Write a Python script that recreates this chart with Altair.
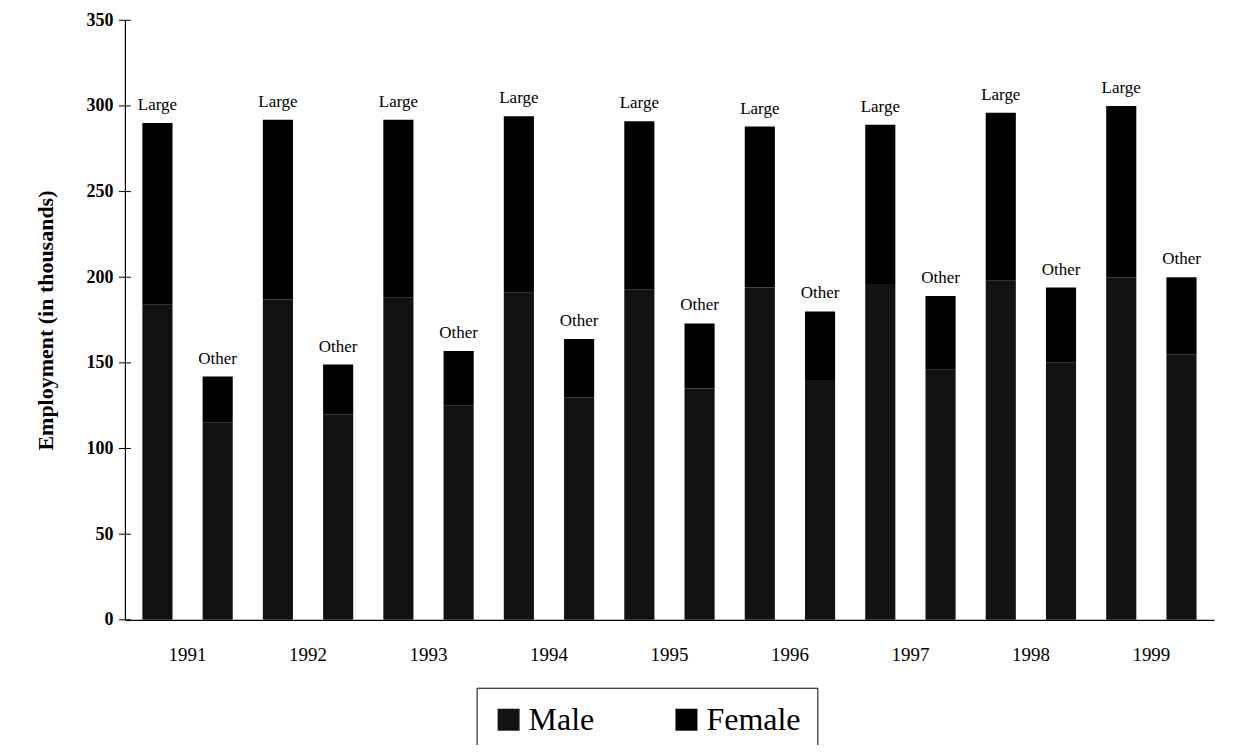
import altair as alt
import pandas as pd

years = ["1991", "1992", "1993", "1994", "1995", "1996", "1997", "1998", "1999"]
sizes = ["Large", "Other"]
sexes = ["Male", "Female"]
large_male = [184, 187, 188, 191, 193, 194, 196, 198, 200]
large_female = [106, 105, 104, 103, 98, 94, 93, 98, 100]
other_male = [115, 120, 125, 130, 135, 140, 146, 150, 155]
other_female = [27, 29, 32, 34, 38, 40, 43, 44, 45]
y_ticks = [0, 50, 100, 150, 200, 250, 300, 350]

rows = []
labels = []
for i, yr in enumerate(years):
    for sz, m, f in (("Large", large_male[i], large_female[i]), ("Other", other_male[i], other_female[i])):
        rows.append({"year": yr, "size": sz, "sex": "Male", "ord": 0, "value": m})
        rows.append({"year": yr, "size": sz, "sex": "Female", "ord": 1, "value": f})
        labels.append({"year": yr, "size": sz, "total": m + f})

df = pd.DataFrame(rows)
lab = pd.DataFrame(labels)
tk = pd.DataFrame({"v": y_ticks})

FONT = "Liberation Serif"

x_enc = alt.X("year:N", sort=years, title=None,
              scale=alt.Scale(paddingInner=0, paddingOuter=0.02),
              axis=alt.Axis(labelAngle=0, ticks=False, domain=True, domainColor="black",
                            domainWidth=1.2, labelFont=FONT, labelFontSize=19,
                            labelColor="black", labelPadding=26, grid=False))
xo_enc = alt.XOffset("size:N", sort=sizes,
                     scale=alt.Scale(paddingInner=0.5, paddingOuter=0.25))

y_axis = alt.Axis(values=y_ticks, ticks=False, domainColor="black", domainWidth=1.2,
                  labelFont=FONT, labelFontSize=18, labelFontWeight="bold",
                  labelColor="black", labelPadding=12, grid=False,
                  titleFont=FONT, titleFontSize=22, titleFontWeight="bold",
                  titleColor="black", titlePadding=28)

bars = alt.Chart(df).mark_bar(stroke=None).encode(
    x=x_enc,
    xOffset=xo_enc,
    y=alt.Y("value:Q", stack="zero", title="Employment (in thousands)",
            scale=alt.Scale(domain=[0, 350], nice=False), axis=y_axis),
    color=alt.Color("sex:N", sort=sexes,
                    scale=alt.Scale(domain=sexes, range=["#121212", "#000000"]),
                    legend=alt.Legend(title=None, orient="none", legendX=352, legendY=668,
                                      direction="horizontal", symbolType="square",
                                      symbolSize=484, symbolStrokeWidth=0,
                                      labelFont=FONT, labelFontSize=32, labelColor="black",
                                      strokeColor="black", padding=16, columnPadding=76,
                                      labelOffset=4)),
    order=alt.Order("ord:Q"),
)

text = alt.Chart(lab).mark_text(baseline="bottom", dy=-9, font=FONT, fontSize=17,
                                color="black").encode(
    x=alt.X("year:N", sort=years),
    xOffset=alt.XOffset("size:N", sort=sizes),
    y=alt.Y("total:Q", title="Employment (in thousands)", axis=y_axis),
    text="size:N",
)

crosses = alt.Chart(tk).mark_rule(color="black", strokeWidth=1).encode(
    y=alt.Y("v:Q", title="Employment (in thousands)", axis=y_axis),
    x=alt.value(-6),
    x2=alt.value(6),
)

chart = alt.layer(bars, text, crosses).properties(
    width=1090, height=600,
    autosize=alt.AutoSizeParams(type="none"),
    padding={"left": 117, "top": 12, "right": 20, "bottom": 125},
    background="white",
).configure_view(stroke=None).configure_axis(grid=False)

chart.save("out.html", embed_options={"renderer": "svg", "actions": False})
